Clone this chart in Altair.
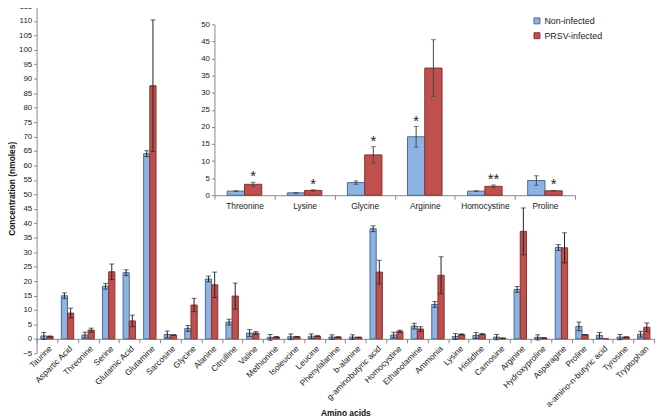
import altair as alt
import pandas as pd

# ---------------- data ----------------
categories = ["Taurine", "Aspartic Acid", "Threonine", "Serine", "Glutamic Acid", "Glutamine",
              "Sarcosine", "Glycine", "Alanine", "Citrulline", "Valine", "Methionine",
              "Isoleucine", "Leucine", "Phenylalanine", "b-alanine", "g-aminobutyric acid",
              "Homocystine", "Ethanolamine", "Ammonia", "Lysine", "Histidine", "Carnosine",
              "Arginine", "Hydroxyproline", "Asparagine", "Proline", "a-amino-n-butyric acid",
              "Tyrosine", "Tryptophan"]
non_infected = [1.0, 14.9, 1.3, 18.2, 22.9, 64.1, 1.5, 3.6, 20.7, 5.8, 2.0, 0.5, 0.7, 0.9, 0.6,
                0.6, 38.1, 1.3, 4.4, 11.9, 0.8, 1.2, 0.6, 17.1, 0.5, 31.6, 4.3, 1.2, 0.6, 1.6]
non_infected_err = [1.2, 1.0, 1.0, 1.0, 1.0, 1.0, 1.2, 1.0, 1.0, 1.0, 1.2, 1.0, 1.0, 0.8, 0.8,
                    0.8, 1.0, 1.0, 1.0, 1.0, 1.0, 1.0, 0.9, 1.0, 0.9, 1.0, 1.5, 1.0, 0.9, 1.0]
prsv_infected = [0.8, 8.9, 3.0, 23.2, 6.2, 87.6, 1.3, 11.7, 18.7, 14.8, 2.0, 0.6, 0.7, 0.9, 0.6,
                 0.5, 23.1, 2.6, 3.4, 22.0, 1.5, 1.6, 0.2, 37.2, 0.3, 31.5, 1.4, 0.0, 0.6, 4.0]
prsv_infected_err = [0.2, 1.7, 0.7, 2.7, 2.0, 22.8, 0.1, 2.3, 4.4, 4.5, 0.5, 0.2, 0.1, 0.2, 0.1,
                     0.1, 4.1, 0.4, 0.8, 6.4, 0.2, 0.2, 0.1, 8.1, 0.1, 5.2, 0.1, 0.0, 0.1, 1.5]

inset_categories = ["Threonine", "Lysine", "Glycine", "Arginine", "Homocystine", "Proline"]
inset_non = [1.2, 0.7, 3.7, 17.1, 1.2, 4.3]
inset_non_err = [0.1, 0.1, 0.5, 3.0, 0.1, 1.4]
inset_prsv = [3.2, 1.4, 11.8, 37.2, 2.6, 1.3]
inset_prsv_err = [0.6, 0.2, 2.4, 8.3, 0.4, 0.1]
inset_star_non = ["", "", "", "*", "", ""]
inset_star_prsv = ["*", "*", "*", "", "**", "*"]

series = ["Non-infected", "PRSV-infected"]
fill_colors = ["#8DB3E2", "#C0504D"]
stroke_colors = ["#4A6A93", "#86312F"]


def to_long(cats, a, ae, b, be, sa=None, sb=None):
    rows = []
    for i, c in enumerate(cats):
        for s, v, e, st in ((series[0], a[i], ae[i], sa[i] if sa else ""),
                            (series[1], b[i], be[i], sb[i] if sb else "")):
            rows.append(dict(cat=c, series=s, value=v, err=e, lo=v - e, hi=v + e, star=st))
    return pd.DataFrame(rows)


main_df = to_long(categories, non_infected, non_infected_err, prsv_infected, prsv_infected_err)
inset_df = to_long(inset_categories, inset_non, inset_non_err, inset_prsv, inset_prsv_err,
                   inset_star_non, inset_star_prsv)

# ---------------- layout ----------------
W, H = 625, 347
FONT = "Liberation Sans"
AX = "#868686"

legend = alt.Legend(orient="none", legendX=502, legendY=6, title=None, symbolType="square",
                    symbolSize=36, labelFontSize=9, labelFont=FONT, rowPadding=4,
                    symbolStrokeWidth=1, labelColor="#222", labelOffset=3)
fill_enc = alt.Fill("series:N", scale=alt.Scale(domain=series, range=fill_colors), legend=legend)
stroke_enc = alt.Stroke("series:N", scale=alt.Scale(domain=series, range=stroke_colors), legend=legend)

# main chart scales
x_main = alt.X("cat:N", sort=categories,
               scale=alt.Scale(domain=categories, paddingInner=0, paddingOuter=0),
               axis=alt.Axis(title="Amino acids", labelAngle=-45, labelAlign="right",
                             labelBaseline="top", labelFontSize=8.5, labelPadding=1,
                             labelOverlap=False,
                             offset=-14.6, tickBand="extent", tickSize=4, tickColor=AX,
                             domainColor=AX, titleFontWeight="bold", titleFontSize=8.5,
                             titleY=78, titleBaseline="alphabetic"))
xo_main = alt.XOffset("series:N", scale=alt.Scale(domain=series, paddingInner=0, paddingOuter=0.66))
y_main_scale = alt.Scale(domain=[-5, 115], range=[H, -4], nice=False, zero=False)
y_main = alt.Y("value:Q", scale=y_main_scale,
               axis=alt.Axis(title="Concentration (nmoles)", values=list(range(-5, 116, 5)),
                             labelOverlap=False, labelBound=False, tickCount=40,
                             tickSize=3, tickColor=AX, domainColor=AX, grid=False,
                             labelFontSize=8, labelPadding=2, titleFontWeight="bold",
                             titleFontSize=8.5, titleX=-25, titleY=180, titleBaseline="middle"))

x_m_plain = alt.X("cat:N", sort=categories)

main_base = alt.Chart(main_df)
main_bars = main_base.mark_bar(strokeWidth=1).encode(x=x_main, xOffset=xo_main, y=y_main,
                                                     fill=fill_enc, stroke=stroke_enc)
err_main = main_df[main_df["err"] > 0]
main_rules = alt.Chart(err_main).mark_rule(color="#222", strokeWidth=1).encode(
    x=x_m_plain, xOffset="series:N", y="lo:Q", y2="hi:Q")
main_caps_hi = alt.Chart(err_main).mark_tick(color="#222", size=5, thickness=1).encode(
    x=x_m_plain, xOffset="series:N", y="hi:Q")
main_caps_lo = alt.Chart(err_main).mark_tick(color="#222", size=5, thickness=1).encode(
    x=x_m_plain, xOffset="series:N", y="lo:Q")
main = alt.layer(main_bars, main_rules, main_caps_hi, main_caps_lo)

# inset chart scales
IX0, IX1 = 180, 545
IY0, IY1 = 187, 14
x_in = alt.X("cat:N", sort=inset_categories,
             scale=alt.Scale(domain=inset_categories, range=[IX0, IX1], paddingInner=0, paddingOuter=0),
             axis=alt.Axis(orient="bottom", offset=-(H - IY0), title=None, labelAngle=0,
                           labelFontSize=8.5, labelPadding=2, tickBand="extent", tickSize=4,
                           tickColor=AX, domainColor=AX))
xo_in = alt.XOffset("series:N", scale=alt.Scale(domain=series, paddingInner=0, paddingOuter=0.74))
y_in = alt.Y("value:Q", scale=alt.Scale(domain=[0, 50], range=[IY0, IY1], nice=False),
             axis=alt.Axis(orient="left", offset=-IX0, title=None, values=list(range(0, 51, 5)),
                           labelOverlap=False, tickCount=40,
                           tickSize=3, tickColor=AX, domainColor=AX, grid=False,
                           labelFontSize=8, labelPadding=2))
x_i_plain = alt.X("cat:N", sort=inset_categories)

in_base = alt.Chart(inset_df)
in_bars = in_base.mark_bar(strokeWidth=1).encode(x=x_in, xOffset=xo_in, y=y_in,
                                                 fill=fill_enc, stroke=stroke_enc)
in_rules = in_base.mark_rule(color="#444", strokeWidth=1).encode(
    x=x_i_plain, xOffset="series:N", y="lo:Q", y2="hi:Q")
in_caps_hi = in_base.mark_tick(color="#444", size=5, thickness=1).encode(
    x=x_i_plain, xOffset="series:N", y="hi:Q")
in_caps_lo = in_base.mark_tick(color="#444", size=5, thickness=1).encode(
    x=x_i_plain, xOffset="series:N", y="lo:Q")
in_stars = in_base.mark_text(fontSize=15, font=FONT, baseline="alphabetic", dy=-1,
                             color="#222").encode(
    x=x_i_plain, xOffset="series:N", y="hi:Q", text="star:N")
inset = alt.layer(in_bars, in_rules, in_caps_hi, in_caps_lo, in_stars)

chart = alt.layer(main, inset).resolve_scale(
    x="independent", y="independent", xOffset="independent"
).properties(
    width=W, height=H,
    autosize=alt.AutoSizeParams(type="none"),
    padding={"left": 29, "top": 0, "right": 2, "bottom": 65},
).configure_view(stroke=None).configure_axis(
    labelFont=FONT, titleFont=FONT, labelColor="#222", titleColor="#111"
).configure_text(font=FONT)

chart.save("out.html", embed_options={"renderer": "svg", "actions": False})
